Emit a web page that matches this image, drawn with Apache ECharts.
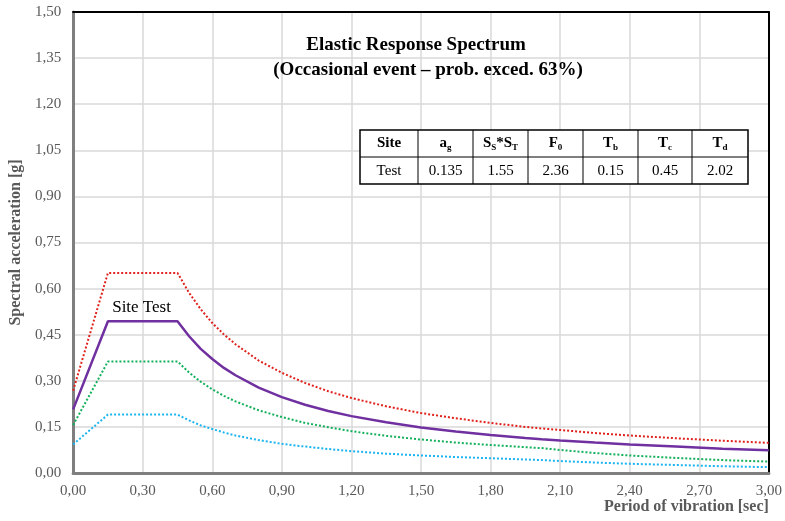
<!DOCTYPE html>
<html>
<head>
<meta charset="utf-8">
<script src="https://cdn.jsdelivr.net/npm/echarts@6/dist/echarts.min.js"></script>
<style>
  html, body { margin: 0; padding: 0; background: #ffffff; }
  #chart { width: 785px; height: 521px; }
</style>
</head>
<body>
<div id="chart"></div>
<script>
// Periods of vibration [sec]
const periods = [0, 0.15, 0.45, 0.5, 0.55, 0.6, 0.65, 0.7, 0.8, 0.9, 1.0, 1.1, 1.2, 1.35, 1.5, 1.65, 1.8, 1.95, 2.02, 2.1, 2.25, 2.4, 2.6, 2.8, 3.0];

// Spectral acceleration [g]
const upperSpectrum = [0.268, 0.651, 0.651, 0.586, 0.533, 0.488, 0.451, 0.419, 0.366, 0.326, 0.293, 0.266, 0.244, 0.217, 0.195, 0.178, 0.163, 0.150, 0.145, 0.140, 0.130, 0.122, 0.113, 0.105, 0.098];
const siteSpectrum  = [0.207, 0.494, 0.494, 0.445, 0.404, 0.371, 0.342, 0.318, 0.278, 0.247, 0.222, 0.202, 0.185, 0.165, 0.148, 0.135, 0.124, 0.114, 0.110, 0.106, 0.099, 0.093, 0.086, 0.079, 0.074];
const midSpectrum   = [0.156, 0.363, 0.363, 0.327, 0.297, 0.272, 0.251, 0.233, 0.204, 0.182, 0.163, 0.149, 0.136, 0.121, 0.109, 0.099, 0.091, 0.084, 0.081, 0.075, 0.065, 0.057, 0.049, 0.042, 0.037];
const lowerSpectrum = [0.093, 0.190, 0.190, 0.171, 0.155, 0.143, 0.132, 0.122, 0.107, 0.095, 0.086, 0.078, 0.071, 0.063, 0.057, 0.052, 0.048, 0.044, 0.042, 0.039, 0.034, 0.030, 0.026, 0.022, 0.019];

// Parameter table
const tableHeaders = ['{m|Site}', '{m|a}{s|g}', '{m|S}{s|S}{m|*S}{s|T}', '{m|F}{s|0}', '{m|T}{s|b}', '{m|T}{s|c}', '{m|T}{s|d}'];
const tableValues = ['Test', '0.135', '1.55', '2.36', '0.15', '0.45', '2.02'];

const siteLabel = 'Site Test';
const titleLines = ['Elastic Response Spectrum', '(Occasional event \u2013 prob. exced. 63%)'];

const FONT = '"Liberation Serif", "Times New Roman", serif';
const AXIS_GREY = '#595959';

function pairs(values) {
  return periods.map((p, i) => [p, values[i]]);
}
function fmt(v) {
  return v.toFixed(2).replace('.', ',');
}

// Table geometry
const colEdges = [360, 418, 473, 528, 583, 638, 692, 748];
const rowEdges = [130, 157, 184];

const graphics = [];
// title
graphics.push({
  type: 'text', x: 416, y: 45, z: 10,
  style: { text: titleLines[0], font: 'bold 19px ' + FONT, fill: '#000', align: 'center', verticalAlign: 'middle' }
});
graphics.push({
  type: 'text', x: 428, y: 70, z: 10,
  style: { text: titleLines[1], font: 'bold 19px ' + FONT, fill: '#000', align: 'center', verticalAlign: 'middle' }
});
// table background and lines
graphics.push({
  type: 'rect', z: 10,
  shape: { x: colEdges[0], y: rowEdges[0], width: colEdges[colEdges.length - 1] - colEdges[0], height: rowEdges[2] - rowEdges[0] },
  style: { fill: '#ffffff', stroke: '#000', lineWidth: 1.5 }
});
graphics.push({
  type: 'line', z: 11,
  shape: { x1: colEdges[0], y1: rowEdges[1], x2: colEdges[colEdges.length - 1], y2: rowEdges[1] },
  style: { stroke: '#000', lineWidth: 1 }
});
for (let i = 1; i < colEdges.length - 1; i++) {
  graphics.push({
    type: 'line', z: 11,
    shape: { x1: colEdges[i], y1: rowEdges[0], x2: colEdges[i], y2: rowEdges[2] },
    style: { stroke: '#000', lineWidth: 1 }
  });
}
for (let i = 0; i < tableHeaders.length; i++) {
  const cx = (colEdges[i] + colEdges[i + 1]) / 2;
  graphics.push({
    type: 'text', x: cx, y: (rowEdges[0] + rowEdges[1]) / 2, z: 12,
    style: {
      text: tableHeaders[i], align: 'center', verticalAlign: 'middle',
      rich: {
        m: { font: 'bold 15px ' + FONT, fill: '#000', lineHeight: 18, verticalAlign: 'middle' },
        s: { font: 'bold 9px ' + FONT, fill: '#000', lineHeight: 9, verticalAlign: 'bottom' }
      }
    }
  });
  graphics.push({
    type: 'text', x: cx, y: (rowEdges[1] + rowEdges[2]) / 2 + 1, z: 12,
    style: { text: tableValues[i], font: '15px ' + FONT, fill: '#000', align: 'center', verticalAlign: 'middle' }
  });
}

const chart = echarts.init(document.getElementById('chart'), null, { renderer: 'canvas' });

const splitStyle = { show: true, lineStyle: { color: '#d9d9d9', width: 1.5 } };

chart.setOption({
  animation: false,
  backgroundColor: '#ffffff',
  grid: { left: 70, right: 15, top: 12, bottom: 48 },
  xAxis: [
    {
      type: 'value', min: 0, max: 3, interval: 0.3,
      name: 'Period of vibration [sec]',
      nameLocation: 'end', nameGap: 0,
      nameTextStyle: {
        fontFamily: FONT, fontWeight: 'bold', fontSize: 16, color: AXIS_GREY,
        align: 'right', verticalAlign: 'top', padding: [26, 0, 0, 0]
      },
      axisLine: { show: true, onZero: false, lineStyle: { color: '#7f7f7f', width: 3 } },
      axisTick: { show: false },
      axisLabel: { fontFamily: FONT, fontSize: 15, color: AXIS_GREY, margin: 11, formatter: fmt },
      splitLine: splitStyle
    },
    {
      // top frame edge
      type: 'value', position: 'top', min: 0, max: 3, interval: 0.3,
      axisLine: { show: true, onZero: false, lineStyle: { color: '#000', width: 2 } },
      axisTick: { show: false }, axisLabel: { show: false }, splitLine: { show: false }
    }
  ],
  yAxis: [
    {
      type: 'value', min: 0, max: 1.5, interval: 0.15,
      name: 'Spectral acceleration [g]',
      nameLocation: 'middle', nameGap: 40,
      nameTextStyle: { fontFamily: FONT, fontWeight: 'bold', fontSize: 16, color: AXIS_GREY },
      axisLine: { show: true, onZero: false, lineStyle: { color: '#7f7f7f', width: 3 } },
      axisTick: { show: false },
      axisLabel: { fontFamily: FONT, fontSize: 15, color: AXIS_GREY, margin: 12, formatter: fmt },
      splitLine: splitStyle
    },
    {
      // right frame edge
      type: 'value', position: 'right', min: 0, max: 1.5, interval: 0.15,
      axisLine: { show: true, onZero: false, lineStyle: { color: '#000', width: 2 } },
      axisTick: { show: false }, axisLabel: { show: false }, splitLine: { show: false }
    }
  ],
  series: [
    {
      type: 'line', data: pairs(upperSpectrum), showSymbol: false, symbol: 'none',
      lineStyle: { color: '#e0211c', width: 2, type: [2, 2] }, z: 3
    },
    {
      type: 'line', data: pairs(midSpectrum), showSymbol: false, symbol: 'none',
      lineStyle: { color: '#13b05a', width: 2, type: [2, 2] }, z: 3
    },
    {
      type: 'line', data: pairs(lowerSpectrum), showSymbol: false, symbol: 'none',
      lineStyle: { color: '#1ab4f0', width: 2, type: [2, 2] }, z: 3
    },
    {
      type: 'line', data: pairs(siteSpectrum), showSymbol: false, symbol: 'none',
      lineStyle: { color: '#7030a0', width: 2.5 }, z: 4,
      markPoint: {
        symbol: 'circle', symbolSize: 1,
        itemStyle: { color: 'transparent' },
        label: {
          show: true, position: 'inside', formatter: siteLabel,
          fontFamily: FONT, fontSize: 17, color: '#000'
        },
        data: [{ coord: [0.295, 0.54] }]
      }
    }
  ],
  graphic: graphics
});
</script>
</body>
</html>
